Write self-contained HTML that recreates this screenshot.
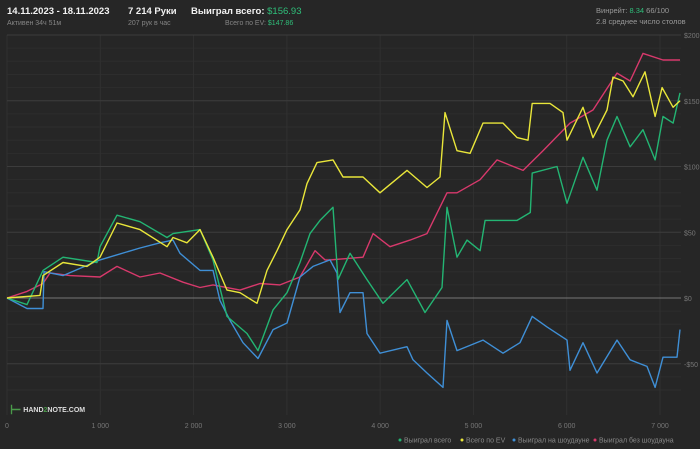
<!DOCTYPE html>
<html><head><meta charset="utf-8">
<style>
body{margin:0;background:#262626;font-family:"Liberation Sans","Noto Sans CJK SC",sans-serif;}
#wrap{position:relative;width:700px;height:449px;overflow:hidden;background:#262626;}
.t{position:absolute;white-space:nowrap;}
.big{font-size:9.5px;color:#f2f2f2;font-weight:bold;top:6px;}
.sm{font-size:7px;color:#858585;top:20px;}
</style></head><body>
<div id="wrap">
<div class="t big" style="left:7px">14.11.2023 - 18.11.2023</div>
<div class="t sm" style="left:7px">Активен 34ч 51м</div>
<div class="t big" style="left:128px">7 214 Руки</div>
<div class="t sm" style="left:128px">207 рук в час</div>
<div class="t big" style="left:191px">Выиграл всего: <span style="color:#2fbf7a;font-weight:normal">$156.93</span></div>
<div class="t sm" style="left:225px">Всего по EV: <span style="color:#2fbf7a">$147.86</span></div>
<div class="t" style="left:596px;top:6px;font-size:7.5px;color:#999">Винрейт: <span style="color:#2fbf7a">8.34</span> 66/100</div>
<div class="t" style="left:596px;top:17px;font-size:7.5px;color:#999">2.8 среднее число столов</div>
<svg id="chart" width="700" height="449" style="position:absolute;left:0;top:0"></svg>
<div class="t" style="left:10px;top:402px;font-size:7px;color:#ddd;font-weight:bold"><span style="color:#4a9a4a;font-size:13px;vertical-align:middle">⊢</span> HAND<span style="color:#4a9a4a">2</span>NOTE.COM</div>
</div>
<script>
const xTicks=[0,1000,2000,3000,4000,5000,6000,7000];
const xTickLabels=["0","1 000","2 000","3 000","4 000","5 000","6 000","7 000"];
const yTicks=[200,150,100,50,0,-50];
const yTickLabels=["$200","$150","$100","$50","$0","-$50"];
const handsTotal=[0,214,386,600,965,997,1179,1426,1715,1780,2069,2208,2358,2573,2691,2852,3002,3141,3248,3355,3495,3548,3677,3859,4031,4288,4481,4663,4717,4824,4931,5071,5125,5468,5610,5630,5896,6003,6175,6325,6432,6539,6679,6818,6947,7032,7140,7214];
const wonTotal=[0,-5,21,31,27,39,63,58,46,49,52,29,-14,-27,-40,-9,4,27,49,59,69,14,34,14,-4,14,-11,8,69,31,44,36,59,59,65,95,100,72,107,82,120,138,115,128,105,138,133,156];
const handsEV=[0,354,386,600,858,997,1179,1426,1715,1780,1930,2069,2208,2358,2498,2680,2787,2894,3002,3141,3216,3323,3495,3602,3816,3999,4288,4502,4642,4695,4824,4964,5103,5317,5468,5585,5630,5821,5960,6003,6175,6282,6432,6496,6604,6711,6839,6947,7022,7140,7214];
const wonEV=[0,2,17,27,24,31,57,52,39,46,42,52,31,6,4,-4,21,36,52,67,87,103,105,92,92,80,97,84,92,141,112,110,133,133,122,120,148,148,141,120,145,122,143,168,165,153,172,138,160,145,150];
const handsSD=[0,214,386,397,600,997,1426,1640,1780,1855,2069,2208,2283,2391,2530,2691,2852,3002,3141,3280,3463,3538,3570,3677,3816,3859,3999,4288,4352,4502,4674,4717,4824,5103,5317,5499,5630,5789,6003,6035,6175,6325,6539,6679,6861,6947,7032,7182,7214];
const wonShowdown=[0,-8,-8,20,17,29,38,42,44,34,21,21,-2,-17,-34,-46,-24,-19,16,24,29,19,-11,4,4,-27,-42,-37,-47,-57,-68,-17,-40,-32,-42,-34,-14,-22,-32,-55,-34,-57,-32,-47,-52,-68,-45,-45,-24];
const handsNSD=[0,214,386,461,675,997,1179,1426,1640,1887,2069,2208,2498,2712,2927,3141,3302,3409,3463,3816,3924,4106,4320,4502,4717,4824,5071,5253,5532,5746,6035,6282,6539,6679,6818,7032,7214];
const wonNonShowdown=[0,5,11,19,17,16,24,16,19,12,8,10,6,11,10,16,36,29,29,31,49,39,44,49,80,80,90,105,97,112,133,143,171,165,186,181,181];
const seriesNames=["Выиграл всего","Всего по EV","Выиграл на шоудауне","Выиграл без шоудауна"];
const seriesColors=["#23b573","#e9e63a","#3f8fd6","#d8396c"];
const NS="http://www.w3.org/2000/svg";
const svg=document.getElementById('chart');
const X0=7,X1=660,Y0=298,Y200=35;
function xs(h){return X0+(X1-X0)*h/7000;}
function ys(v){return Y0-(Y0-Y200)*v/200;}
function mk(tag,attrs){const e=document.createElementNS(NS,tag);for(const k in attrs)e.setAttribute(k,attrs[k]);svg.appendChild(e);return e;}
for(let v=-70;v<=200;v+=10){const l=mk('line',{x1:7,x2:681,y1:ys(v),y2:ys(v),stroke:'#2d2d2d','stroke-width':1});

}
xTicks.forEach((t,i)=>{const l=mk('line',{x1:xs(t),x2:xs(t),y1:35,y2:415,stroke:'#303030','stroke-width':1});


const tx=mk('text',{x:xs(t),y:428,fill:'#777','font-size':7,'text-anchor':'middle','font-family':'Liberation Sans, sans-serif'});
tx.textContent=xTickLabels[i];

});
yTicks.forEach((t,i)=>{const l=mk('line',{x1:7,x2:681,y1:ys(t),y2:ys(t),stroke:t===0?'#777':'#3c3c3c','stroke-width':1});


const tx=mk('text',{x:684,y:ys(t)+3,fill:'#777','font-size':7,'font-family':'Liberation Sans, sans-serif'});
tx.textContent=yTickLabels[i];

});
const data=[[handsTotal,wonTotal],[handsEV,wonEV],[handsSD,wonShowdown],[handsNSD,wonNonShowdown]];
[3,2,0,1].forEach(si=>{const [hs,vs]=data[si];const pts=vs.map((v,i)=>xs(hs[i]).toFixed(1)+','+ys(v).toFixed(1)).join(' ');
const p=mk('polyline',{points:pts,fill:'none',stroke:seriesColors[si],'stroke-width':1.4,'stroke-linejoin':'round'});

});
const lx=[400,462,514,595];
seriesNames.forEach((n,i)=>{const c=mk('circle',{cx:lx[i],cy:440,r:1.5,fill:seriesColors[i]});


const t=mk('text',{x:lx[i]+4,y:442.5,fill:'#888','font-size':7,'font-family':'Liberation Sans, sans-serif'});
t.textContent=n;

});
</script>
</body></html>
